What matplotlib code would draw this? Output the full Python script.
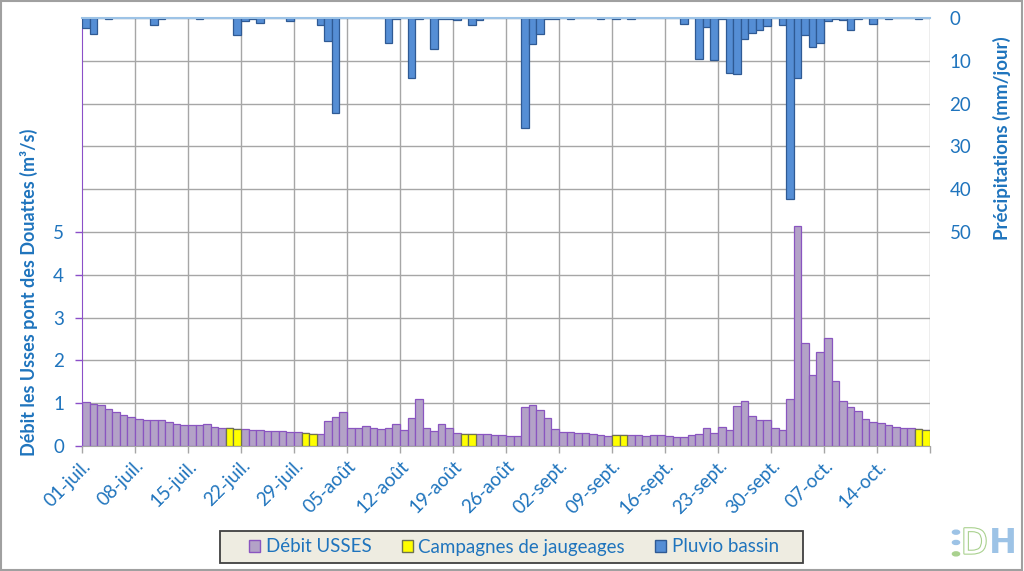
import matplotlib.pyplot as plt
import matplotlib.patheffects as pe
from matplotlib.patches import Patch, Rectangle, Circle

# daily values, 01-juil. -> 20-oct. (one row per week)
debit = [1.02, 0.98, 0.95, 0.86, 0.79, 0.73, 0.68,
         0.64, 0.60, 0.60, 0.60, 0.56, 0.52, 0.49,
         0.49, 0.49, 0.51, 0.44, 0.42, 0.41, 0.39,
         0.40, 0.38, 0.37, 0.36, 0.35, 0.34, 0.32,
         0.32, 0.31, 0.29, 0.27, 0.59, 0.68, 0.79,
         0.42, 0.42, 0.46, 0.42, 0.39, 0.42, 0.51,
         0.37, 0.65, 1.09, 0.41, 0.35, 0.51, 0.41,
         0.30, 0.29, 0.27, 0.27, 0.27, 0.26, 0.26,
         0.23, 0.23, 0.91, 0.95, 0.83, 0.65, 0.39,
         0.32, 0.32, 0.30, 0.30, 0.27, 0.26, 0.23,
         0.25, 0.25, 0.26, 0.26, 0.24, 0.26, 0.26,
         0.24, 0.22, 0.22, 0.26, 0.28, 0.42, 0.30,
         0.44, 0.37, 0.94, 1.05, 0.71, 0.60, 0.60,
         0.42, 0.38, 1.09, 5.15, 2.41, 1.67, 2.19,
         2.52, 1.53, 1.05, 0.92, 0.81, 0.63, 0.56,
         0.54, 0.49, 0.44, 0.42, 0.41, 0.40, 0.38]

pluie = [2.3, 3.7, 0, 0.3, 0, 0, 0,
         0, 0, 1.7, 0.3, 0, 0, 0,
         0, 0.3, 0, 0, 0, 0, 3.9,
         0.6, 0.2, 1.1, 0, 0, 0, 0.7,
         0, 0, 0, 1.6, 5.3, 22.2, 0,
         0, 0, 0, 0, 0, 5.8, 0.2,
         0, 14.0, 0.2, 0, 7.2, 0.3, 0.3,
         0.5, 0, 1.6, 0.5, 0, 0, 0,
         0, 0, 25.6, 6.0, 3.8, 0.3, 0.3,
         0, 0.3, 0, 0, 0, 0.2, 0,
         0.3, 0, 0.3, 0, 0, 0, 0,
         0, 0, 1.4, 0, 9.5, 2.0, 9.7,
         0.3, 12.8, 13.0, 5.0, 3.6, 2.9, 1.8,
         0, 1.7, 42.2, 14.1, 3.9, 6.7, 5.8,
         0.6, 0.15, 0.5, 2.7, 0.2, 0, 1.3,
         0, 0.3, 0, 0, 0, 0.3, 0]

# days (index from 01-juil.) with a gauging campaign
campagnes = [19, 20, 29, 30, 50, 51, 70, 71, 110, 111]

tick_labels = ['01-juil.', '08-juil.', '15-juil.', '22-juil.', '29-juil.', '05-août',
               '12-août', '19-août', '26-août', '02-sept.', '09-sept.', '16-sept.',
               '23-sept.', '30-sept.', '07-oct.', '14-oct.', '']

plt.rcParams['font.family'] = ['Lato', 'DejaVu Sans']

blue_txt = '#1F74BD'
purple = '#8B4FC8'
grid_c = '#A6A6A6'

days = list(range(len(debit)))
n = len(days)

fig = plt.figure(figsize=(10.24, 5.71), dpi=100)
ax = fig.add_axes([82 / 1024, 1 - 446 / 571, 848 / 1024, 428 / 571])

# grid
for y in range(1, 10):
    ax.axhline(y, color=grid_c, lw=1, zorder=0)
for x in range(7, n + 1, 7):
    ax.axvline(x, color=grid_c, lw=1, zorder=0)

ax.bar(days, debit, width=1, align='edge', color='#B3A2C7',
       edgecolor='#8A55C0', linewidth=0.9, zorder=2)
ax.bar(campagnes, [debit[d] for d in campagnes], width=1, align='edge',
       color='#FFFF00', edgecolor='#6E7350', linewidth=0.9, zorder=3)

ax.set_xlim(0, n)
ax.set_ylim(0, 10)
ax.set_yticks(range(0, 6))
ax.set_xticks(range(0, n + 1, 7))
ax.set_xticklabels(tick_labels, rotation=45, ha='right', rotation_mode='anchor',
                   color=blue_txt, fontsize=13.5)
ax.tick_params(axis='x', colors=grid_c, labelcolor=blue_txt, length=5, width=1, pad=3)
ax.tick_params(axis='y', colors=purple, labelcolor=blue_txt, length=5, width=1,
               labelsize=13.5, pad=8)
for s in ['top', 'right']:
    ax.spines[s].set_visible(False)
ax.spines['left'].set_color(purple)
ax.spines['bottom'].set_color(grid_c)
ax.set_ylabel('Débit les Usses pont des Douattes (m³/s)', color=blue_txt,
              fontsize=13, fontweight='bold')
ax.yaxis.set_label_coords(-0.052, 0.36)

ax2 = ax.twinx()
ax2.bar(days, pluie, width=1, align='edge', color='#558ED5',
        edgecolor='#2F5A94', linewidth=0.9, zorder=2)
ax2.set_ylim(100, 0)
ax2.set_yticks(range(0, 60, 10))
ax2.tick_params(axis='y', length=0, labelcolor=blue_txt, labelsize=13.5, pad=14)
for s in ['left', 'right', 'bottom']:
    ax2.spines[s].set_visible(False)
ax2.spines['top'].set_color('#9DC3E6')
ax2.spines['top'].set_linewidth(1.5)
ax2.set_ylabel('Précipitations (mm/jour)', color=blue_txt, fontsize=13.5,
               fontweight='bold')
ax2.yaxis.set_label_coords(1.074, 0.72)

# legend box drawn by hand, entries from a frameless legend
fig.patches.append(Rectangle((220 / 1024, 1 - 563 / 571), 583 / 1024, 32 / 571,
                             transform=fig.transFigure, facecolor='#EEECE1',
                             edgecolor='#404040', linewidth=1.3, zorder=0))
handles = [Patch(facecolor='#B3A2C7', edgecolor='#8A55C0', label='Débit USSES'),
           Patch(facecolor='#FFFF00', edgecolor='#6E7350', label='Campagnes de jaugeages'),
           Patch(facecolor='#558ED5', edgecolor='#2F5A94', label='Pluvio bassin')]
leg = fig.legend(handles=handles, loc='center', bbox_to_anchor=(514 / 1024, 1 - 547 / 571),
                 ncol=3, fontsize=13.5, frameon=False, handlelength=0.6,
                 handleheight=0.6, handletextpad=0.3, columnspacing=1.6)
for t in leg.get_texts():
    t.set_color(blue_txt)

# logo
for yy, c in [(0.068, '#9DC3E6'), (0.050, '#9DC3E6'), (0.030, '#A9D18E')]:
    fig.patches.append(Circle((956 / 1024, yy), 0.0035, transform=fig.transFigure,
                              color=c))
fig.text(961 / 1024, 0.048, 'D', color='white', fontsize=25, va='center',
         family='DejaVu Sans',
         path_effects=[pe.Stroke(linewidth=1.6, foreground='#A9D18E'), pe.Normal()])
fig.text(989 / 1024, 0.048, 'H', color='#9DC3E6', fontsize=24, va='center',
         family='DejaVu Sans', fontweight='bold')

# outer frame
fig.patches.append(Rectangle((0.001, 0.002), 0.997, 0.996, transform=fig.transFigure,
                             fill=False, edgecolor='#A0A0A0', linewidth=1.5))

fig.savefig('out.png', dpi=100)
